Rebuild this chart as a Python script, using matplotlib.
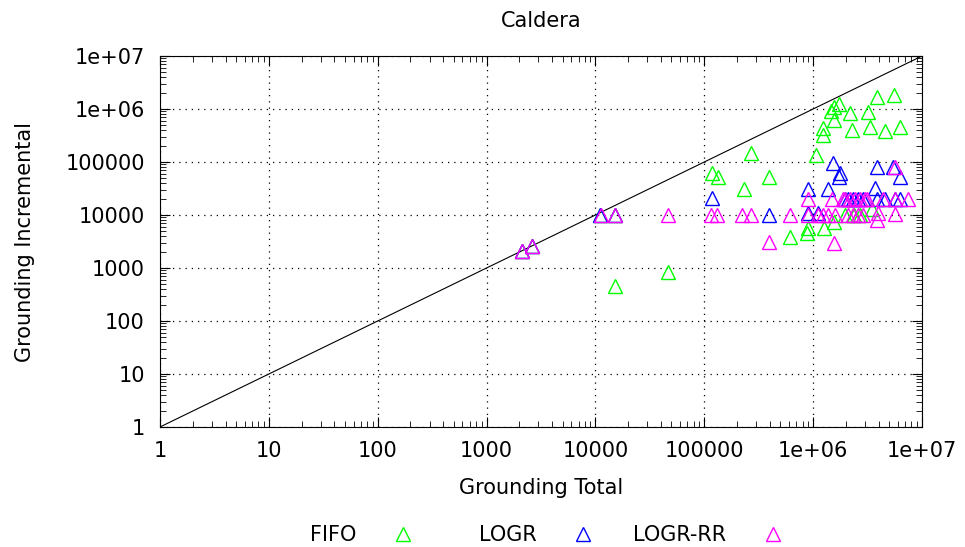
import numpy as np
import matplotlib
matplotlib.use('Agg')
import matplotlib.pyplot as plt
import matplotlib.ticker as ticker

# FIFO (green)
fifo_x = [2.1e3, 2.6e3, 1.1e4, 1.5e4, 1.5e4, 4.6e4, 1.17e5, 1.33e5, 2.3e5, 2.7e5,
          3.9e5, 6.1e5, 8.9e5, 8.8e5, 1.06e6, 1.24e6, 1.24e6, 1.25e6, 1.45e6, 1.55e6,
          1.56e6, 1.56e6, 1.73e6, 1.96e6, 2.2e6, 2.3e6, 2.4e6, 2.7e6, 3.2e6, 3.3e6,
          3.47e6, 3.9e6, 4.6e6, 5.5e6, 6.3e6]
fifo_y = [2.1e3, 2.6e3, 1e4, 1e4, 460, 830, 6.2e4, 5.2e4, 3.1e4, 1.5e5,
          5.2e4, 3.9e3, 5.7e3, 4.5e3, 1.35e5, 4.4e5, 3.2e5, 5.7e3, 9e5, 1.1e6,
          6.2e5, 7.4e3, 1.24e6, 1e4, 8.4e5, 4.0e5, 1e4, 1e4, 8.9e5, 4.6e5,
          1.3e4, 1.7e6, 3.9e5, 1.8e6, 4.6e5]

# LOGR (blue)
logr_x = [2.1e3, 2.6e3, 1.1e4, 1.5e4, 1.18e5, 3.9e5, 8.9e5, 8.9e5, 1.11e6, 1.37e6,
          1.52e6, 1.76e6, 1.74e6, 1.96e6, 2.09e6, 2.32e6, 2.57e6, 2.87e6, 3.7e6, 3.86e6,
          3.86e6, 4.57e6, 5.4e6, 5.65e6, 6.28e6, 6.28e6]
logr_y = [2.1e3, 2.6e3, 1e4, 1e4, 2.1e4, 1e4, 3.1e4, 1.1e4, 1.1e4, 3.1e4,
          9.6e4, 6.3e4, 5.2e4, 2e4, 2e4, 2e4, 2e4, 2e4, 3.2e4, 8.1e4,
          2e4, 2e4, 8.1e4, 2e4, 5.2e4, 2e4]

# LOGR-RR (magenta)
rr_x = [2.1e3, 2.6e3, 1.12e4, 1.5e4, 4.6e4, 1.15e5, 1.3e5, 2.2e5, 2.7e5, 3.9e5,
        6.1e5, 8.97e5, 8.97e5, 1.11e6, 1.24e6, 1.37e6, 1.48e6, 1.55e6, 1.58e6, 1.88e6,
        2.09e6, 2.32e6, 2.57e6, 2.87e6, 3.12e6, 3.94e6, 4.37e6, 3.9e6, 5.6e6, 5.65e6,
        5.65e6, 7.43e6, 1.96e6, 2.18e6, 2.42e6, 2.69e6, 2.99e6]
rr_y = [2.1e3, 2.6e3, 1e4, 1e4, 1e4, 1e4, 1e4, 1e4, 1e4, 3.1e3,
        1e4, 1e4, 2e4, 1e4, 1e4, 1e4, 2e4, 2.9e3, 1e4, 2e4,
        1e4, 1e4, 1e4, 1e4, 2e4, 1.1e4, 2e4, 8e3, 8.1e4, 1.05e4,
        2e4, 2e4, 2e4, 2e4, 2e4, 2e4, 2e4]

tick_vals = [1, 10, 100, 1000, 10000, 100000, 1e6, 1e7]
tick_labels = ['1', '10', '100', '1000', '10000', '100000', '1e+06', '1e+07']

plt.rcParams['font.family'] = 'DejaVu Sans'
plt.rcParams['font.size'] = 15

fig = plt.figure(figsize=(9.65, 5.47), dpi=100)
ax = fig.add_axes([0.1658, 0.2194, 0.7896, 0.6782])

diag = np.array([1, 1e7])
ax.plot(diag, diag, color='black', lw=0.8)

mk = dict(marker='^', linestyle='none', markersize=10.5, markerfacecolor='none',
          markeredgewidth=1.0)
h1, = ax.plot(fifo_x, fifo_y, color='#00ff00', label='FIFO', **mk)
h2, = ax.plot(logr_x, logr_y, color='#0000ff', label='LOGR', **mk)
h3, = ax.plot(rr_x, rr_y, color='#ff00ff', label='LOGR-RR', **mk)

ax.set_xscale('log')
ax.set_yscale('log')
ax.set_xlim(1, 1e7)
ax.set_ylim(1, 1e7)
ax.set_xticks(tick_vals, tick_labels)
ax.set_yticks(tick_vals, tick_labels)
ax.xaxis.set_minor_locator(ticker.LogLocator(base=10, subs=np.arange(2, 10), numticks=20))
ax.yaxis.set_minor_locator(ticker.LogLocator(base=10, subs=np.arange(2, 10), numticks=20))
ax.xaxis.set_minor_formatter(ticker.NullFormatter())
ax.yaxis.set_minor_formatter(ticker.NullFormatter())
ax.tick_params(which='both', direction='in', top=True, right=True, labelsize=15)
ax.tick_params(which='major', length=7)
ax.tick_params(axis='x', which='major', pad=10)
ax.tick_params(axis='y', which='major', pad=11)
ax.tick_params(which='minor', length=4)
ax.grid(True, which='major', color='black', linestyle=(0, (1, 4)), lw=0.9)

ax.set_title('Caldera', fontsize=15, pad=21)
ax.set_xlabel('Grounding Total', labelpad=12)
ax.set_ylabel('Grounding Incremental', labelpad=22)

# gnuplot-style key: one entry per column, text right-justified before the sample
key_right = [424, 604, 794]
for h, x_px in zip([h1, h2, h3], key_right):
    fig.legend([h], [h.get_label()], loc='center right',
               bbox_to_anchor=(x_px / 965, 12 / 547),
               bbox_transform=fig.transFigure, frameon=False,
               markerfirst=False, handlelength=2.0, handletextpad=1.25,
               fontsize=15, borderpad=0, borderaxespad=0)

fig.savefig('out.png', dpi=100)
